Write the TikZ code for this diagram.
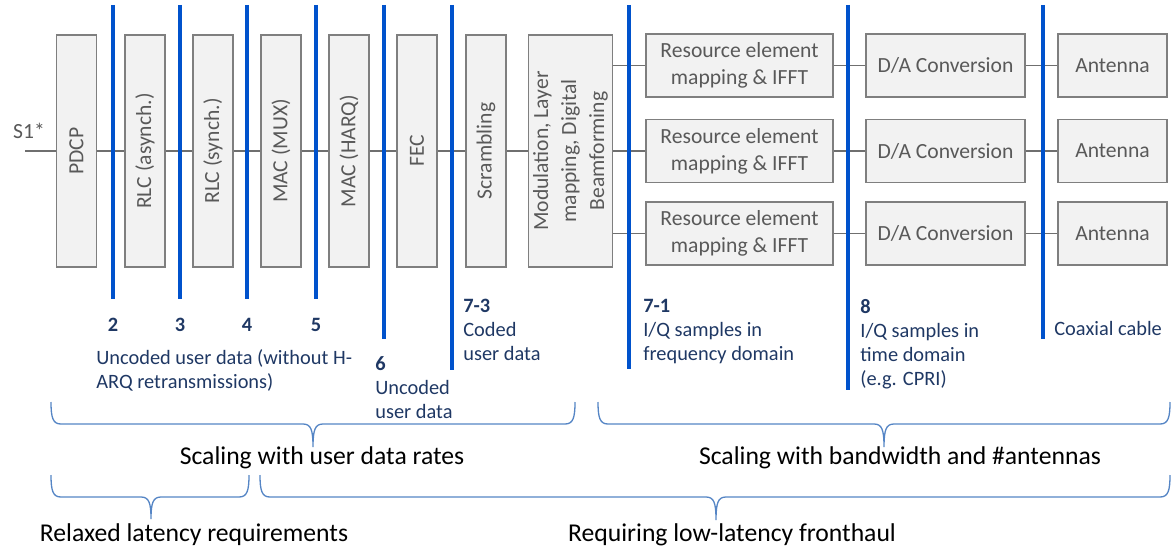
\documentclass[tikz,border=0pt]{standalone}
\usepackage{fontspec}
\setmainfont{Carlito}

\begin{document}
\begin{tikzpicture}[x=0.02cm, y=-0.02cm,
    vbox/.style={draw=boxline, fill=boxfill, text=boxtext, line width=0.8pt,
        minimum width=0.8cm, minimum height=4.64cm, inner sep=0pt,
        font=\fontsize{12.3}{16}\selectfont},
    hbox/.style={draw=boxline, fill=boxfill, text=boxtext, line width=0.8pt,
        minimum height=1.26cm, inner sep=0pt, align=center,
        font=\fontsize{12.3}{15.5}\selectfont},
    link/.style={draw=linkgray, line width=0.7pt},
    split/.style={draw=splitblue, line width=2.3pt},
    splitnum/.style={text=labelblue, font=\fontsize{11.6}{13.6}\selectfont\bfseries, inner sep=0pt},
    splittext/.style={text=labelblue, font=\fontsize{11.6}{13.6}\selectfont,
        align=left, inner sep=0pt, anchor=north west},
    bracepath/.style={draw=braceblue, line width=0.75pt},
    scaletext/.style={font=\fontsize{14.6}{17}\selectfont, inner sep=0pt}
]
    % Define custom colors
    \definecolor{boxfill}{HTML}{F2F2F2}
    \definecolor{boxline}{HTML}{7F7F7F}
    \definecolor{boxtext}{HTML}{595959}
    \definecolor{linkgray}{HTML}{6F6F6F}
    \definecolor{splitblue}{HTML}{0052CC}
    \definecolor{labelblue}{HTML}{1F3864}
    \definecolor{braceblue}{HTML}{5585C5}

    \useasboundingbox (0,0) rectangle (1175,547);

    % Input
    \coordinate (s1) at (25,151);
    \node[text=boxtext, font=\fontsize{12.3}{15}\selectfont, inner sep=0pt] (s1label) at (29,131) {S1*};

    % Processing chain (vertical boxes)
    \foreach \name/\x/\txt in {pdcp/76.5/PDCP, rlca/145/RLC (asynch.), rlcs/213/RLC (synch.),
        mux/281/MAC (MUX), harq/349/MAC (HARQ), fec/417/FEC, scr/486/Scrambling} {
        \node[vbox] (\name) at (\x,151) {\rotatebox{90}{\txt}};
    }
    \node[vbox, minimum width=1.66cm] (mod) at (570.5,151)
        {\rotatebox{90}{\begin{tabular}{@{}c@{}}Modulation, Layer\\mapping, Digital\\Beamforming\end{tabular}}};

    \foreach \a/\b in {s1/pdcp, pdcp/rlca, rlca/rlcs, rlcs/mux, mux/harq, harq/fec, fec/scr, scr/mod} {
        \draw[link] (\a) -- (\b);
    }

    % Antenna branches
    \foreach \r/\y in {1/65.5, 2/151, 3/233.5} {
        \node[hbox, minimum width=3.74cm] (re\r) at (739.5,\y) {\raisebox{-0.1em}{Resource element}\\\raisebox{-0.1em}{mapping \& IFFT}};
        \node[hbox, minimum width=3.18cm] (da\r) at (945.5,\y) {D/A Conversion};
        \node[hbox, minimum width=2.18cm] (ant\r) at (1112.5,\y) {Antenna};
        \draw[link] (re\r.west -| mod.east) -- (re\r);
        \draw[link] (re\r) -- (da\r);
        \draw[link] (da\r) -- (ant\r);
    }

    % Split options
    \foreach \x/\n in {113/2, 180/3, 247/4, 316/5} {
        \draw[split] (\x,5) -- (\x,299);
        \node[splitnum] (num\n) at (\x,325) {\n};
    }
    \draw[split] (384,5) -- (384,339);
    \draw[split] (452,5) -- (452,370);
    \draw[split] (629,5) -- (629,369);
    \draw[split] (848,5) -- (848,390);
    \draw[split] (1043,5) -- (1043,339);

    \node[splittext] (uncodedh) at (96,349) {Uncoded user data (without H-\\ARQ retransmissions)};
    \node[splittext] (opt6) at (375,356) {\textbf{6}\\Uncoded\\user data};
    \node[splittext] (opt73) at (463,299) {\textbf{7-3}\\Coded\\user data};
    \node[splittext] (opt71) at (643,299) {\textbf{7-1}\\I/Q samples in\\frequency domain};
    \node[splittext] (opt8) at (860,299) {\textbf{8}\\I/Q samples in\\time domain\\(e.g. CPRI)};
    \node[splittext, anchor=west] (coax) at (1054,328) {Coaxial cable};

    % Braces
    \foreach \xa/\xt/\xb/\ya/\ym/\yb in {51/313/575/402/424/447, 598/884/1170/402/424/447,
        51/151/249/475/497/519, 260/716/1170/475/497/520} {
        \draw[bracepath] (\xa,\ya) .. controls (\xa,\ym-6) and (\xa+2,\ym) .. (\xa+10,\ym)
            -- (\xt-10,\ym) .. controls (\xt-2,\ym) and (\xt,\ym+6) .. (\xt,\yb)
            .. controls (\xt,\ym+6) and (\xt+2,\ym) .. (\xt+10,\ym)
            -- (\xb-10,\ym) .. controls (\xb-2,\ym) and (\xb,\ym-6) .. (\xb,\ya);
    }

    \node[scaletext] (userrate) at (322,458) {Scaling with user data rates};
    \node[scaletext] (bandwidth) at (900,458) {Scaling with bandwidth and \#antennas};
    \node[scaletext] (relaxed) at (194,535) {Relaxed latency requirements};
    \node[scaletext] (lowlat) at (732,535) {Requiring low-latency fronthaul};

\end{tikzpicture}
\end{document}
